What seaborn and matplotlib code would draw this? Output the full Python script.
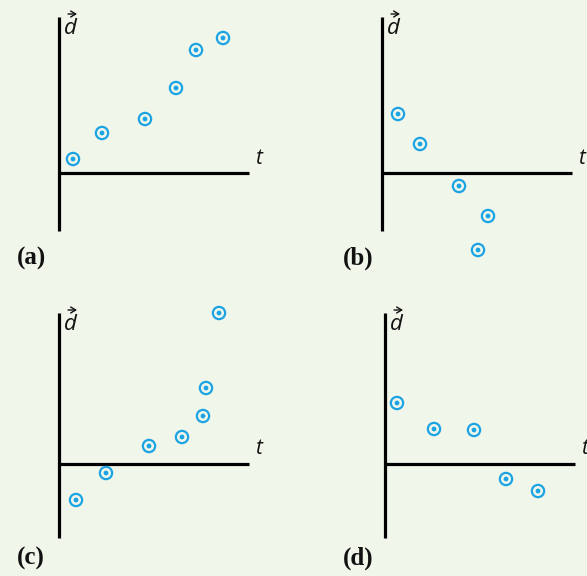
import matplotlib
matplotlib.use("Agg")
import matplotlib.pyplot as plt
import seaborn as sns
import pandas as pd

sns.set_theme(style="white")
plt.rcParams["font.family"] = ["DejaVu Sans"]

BG = "#f1f6eb"
DOT = "#1ba3e3"
INK = "#111111"

# displacement vs time samples for the four graphs
a_t = [1.4, 4.3, 8.6, 11.7, 13.7, 16.4]
a_d = [1.4, 4.0, 5.4, 8.5, 12.3, 13.5]

b_t = [1.6, 3.8, 7.7, 10.6, 9.6]
b_d = [5.9, 2.9, -1.3, -4.3, -7.7]

c_t = [1.7, 4.7, 9.0, 12.3, 14.4, 14.7, 16.0]
c_d = [-3.6, -0.9, 1.8, 2.7, 4.8, 7.6, 15.1]

d_t = [1.2, 4.9, 8.9, 12.1, 15.3]
d_d = [6.1, 3.5, 3.4, -1.5, -2.7]

panel_labels = ["(a)", "(b)", "(c)", "(d)"]

W, H = 587, 576
fig = plt.figure(figsize=(W / 100, H / 100), dpi=100)
fig.patch.set_facecolor(BG)

# origin of each graph in pixels (x from left, y from top), axis extents in data units
panels = [
    (a_t, a_d, (59, 173), 15.6, -5.8),
    (b_t, b_d, (382, 173), 15.6, -5.8),
    (c_t, c_d, (59, 464), 15.1, -7.4),
    (d_t, d_d, (385, 464), 15.1, -7.4),
]
label_pos = [(31, 258), (358, 258), (31, 558), (358, 558)]
SCALE = 10.0  # pixels per data unit

for (t, d, (ox, oy), top, bot), lab, (lx, ly) in zip(panels, panel_labels, label_pos):
    ax = fig.add_axes([0, 0, 1, 1])
    ax.patch.set_alpha(0)
    ax.set_xlim(-ox / SCALE, (W - ox) / SCALE)
    ax.set_ylim(-(H - oy) / SCALE, oy / SCALE)
    ax.axis("off")

    # axes drawn as thick black lines through the origin
    ax.plot([0, 19.0], [0, 0], color="black", lw=2.3, solid_capstyle="butt")
    ax.plot([0, 0], [bot, top], color="black", lw=2.3, solid_capstyle="butt")

    df = pd.DataFrame({"t": t, "d": d})
    sns.scatterplot(data=df, x="t", y="d", ax=ax, s=78, facecolor="none",
                    edgecolor=DOT, linewidth=1.6, zorder=3)
    sns.scatterplot(data=df, x="t", y="d", ax=ax, s=12, color=DOT,
                    edgecolor="none", zorder=4)

    ax.text(19.9, 1.5, "t", fontsize=15, fontstyle="italic", family="Open Sans",
            ha="center", va="center", color=INK)
    ax.text(1.1, top - 1.15, "d", fontsize=16, fontstyle="italic", family="Open Sans",
            ha="center", va="center", color=INK)
    # vector arrow over the d
    ax.annotate("", xy=(1.8, top + 0.3), xytext=(0.9, top + 0.3),
                arrowprops=dict(arrowstyle="->,head_length=0.3,head_width=0.18",
                                lw=1.0, color=INK, shrinkA=0, shrinkB=0))

    fig.text(lx / W, 1 - ly / H, lab, fontsize=18, fontweight="bold",
             family="Liberation Serif", ha="center", va="center", color=INK)

fig.savefig("out.png", dpi=100, facecolor=BG)
